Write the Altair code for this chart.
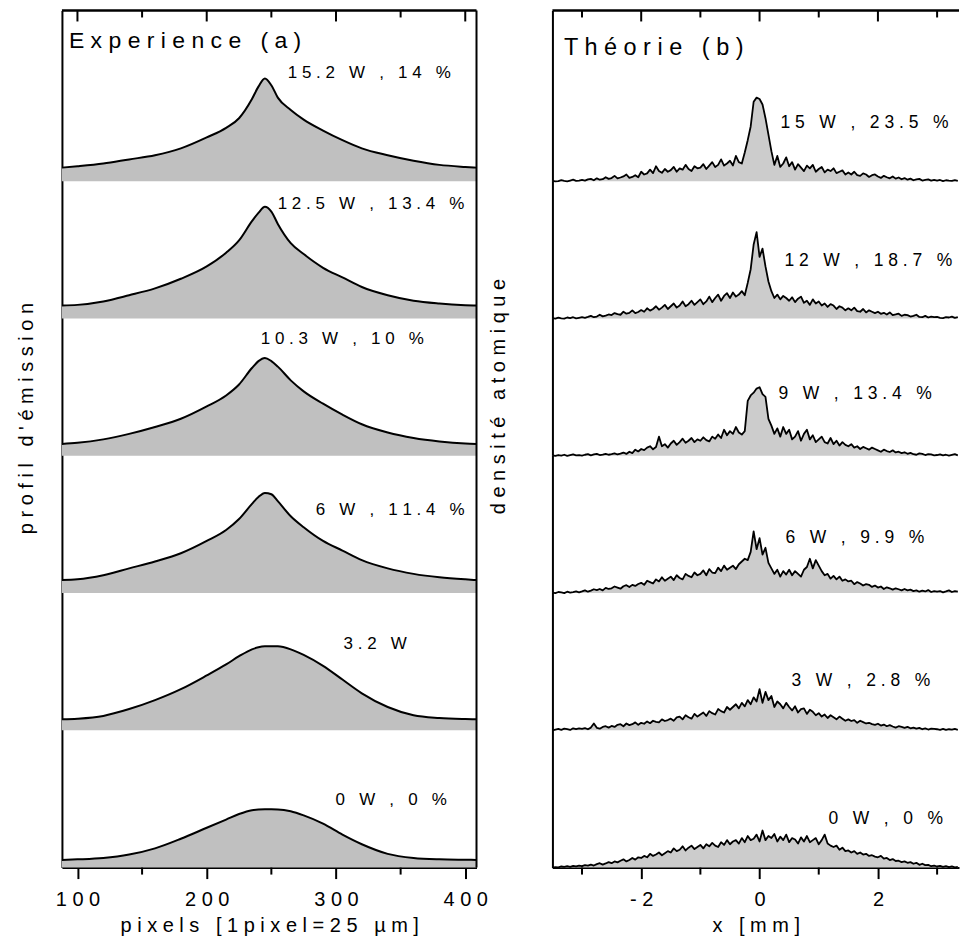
import altair as alt
import pandas as pd

FONT = "Liberation Sans"

# ---------------- (a) Experience : emission profiles ----------------
XA = [88, 100, 120, 140, 160, 180, 200, 215, 225, 235, 240, 245, 250, 255,
      265, 275, 290, 305, 320, 340, 360, 380, 400, 408.7]
A_NAMES = ["15.2 W , 14 %", "12.5 W , 13.4 %", "10.3 W , 10 %",
           "6 W , 11.4 %", "3.2 W", "0 W , 0 %"]
A_152 = [0.10, 0.11, 0.13, 0.16, 0.19, 0.24, 0.32, 0.39, 0.46, 0.60, 0.69, 0.75,
         0.70, 0.61, 0.52, 0.45, 0.37, 0.30, 0.24, 0.19, 0.15, 0.12, 0.105, 0.10]
A_125 = [0.095, 0.10, 0.125, 0.17, 0.22, 0.29, 0.38, 0.48, 0.57, 0.71, 0.77, 0.815,
         0.78, 0.69, 0.55, 0.47, 0.37, 0.30, 0.23, 0.17, 0.13, 0.11, 0.098, 0.095]
A_103 = [0.087, 0.095, 0.12, 0.16, 0.21, 0.27, 0.36, 0.44, 0.52, 0.64, 0.69, 0.713,
         0.69, 0.65, 0.55, 0.47, 0.38, 0.30, 0.23, 0.17, 0.13, 0.105, 0.09, 0.087]
A_6 = [0.095, 0.10, 0.13, 0.18, 0.23, 0.29, 0.38, 0.46, 0.54, 0.65, 0.70, 0.73,
       0.72, 0.67, 0.56, 0.48, 0.38, 0.31, 0.24, 0.18, 0.14, 0.115, 0.10, 0.095]
A_32 = [0.08, 0.085, 0.105, 0.155, 0.22, 0.30, 0.40, 0.48, 0.54, 0.59, 0.605, 0.612,
        0.613, 0.612, 0.59, 0.55, 0.47, 0.37, 0.27, 0.17, 0.11, 0.09, 0.082, 0.08]
A_0 = [0.056, 0.06, 0.07, 0.095, 0.14, 0.21, 0.29, 0.35, 0.39, 0.418, 0.423, 0.425,
       0.425, 0.424, 0.41, 0.38, 0.32, 0.24, 0.17, 0.10, 0.07, 0.06, 0.057, 0.056]
A_SERIES = [A_152, A_125, A_103, A_6, A_32, A_0]
A_LABEL_X = [262.7, 254.9, 241.8, 284.3, 305.9, 299.7]
A_LABEL_Y = [5.793, 4.833, 3.850, 2.606, 1.630, 0.495]
A_TITLE = "Experience (a)"
A_TITLE_X = [93.4]
A_TITLE_Y = [6.026]
TICKS_A_MAJOR = [100, 200, 300, 400]
TICKS_A_MINOR = [150, 250, 350]

# ---------------- (b) Théorie : atomic density ----------------
XB = [round(-3.5 + 0.05 * i, 2) for i in range(138)]  # bin centres, -3.5 .. 3.35 mm
B_NAMES = ["15 W , 23.5 %", "12 W , 18.7 %", "9 W , 13.4 %",
           "6 W , 9.9 %", "3 W , 2.8 %", "0 W , 0 %"]
B_15 = [0.004, 0.0, 0.002, 0.009, 0.003, 0.0, 0.006, 0.012, 0.004, 0.006,
        0.01, 0.005, 0.014, 0.018, 0.008, 0.022, 0.012, 0.016, 0.03, 0.018,
        0.024, 0.04, 0.022, 0.028, 0.036, 0.05, 0.026, 0.032, 0.045, 0.03,
        0.07, 0.05, 0.058, 0.085, 0.06, 0.11, 0.075, 0.062, 0.09, 0.07,
        0.082, 0.105, 0.07, 0.095, 0.085, 0.12, 0.09, 0.075, 0.11, 0.095,
        0.10, 0.125, 0.09, 0.115, 0.14, 0.105, 0.12, 0.16, 0.115, 0.13,
        0.15, 0.115, 0.185, 0.14, 0.13, 0.21, 0.30, 0.40, 0.58, 0.61,
        0.60, 0.56, 0.46, 0.34, 0.22, 0.12, 0.185, 0.105, 0.13, 0.175,
        0.11, 0.14, 0.085, 0.125, 0.10, 0.075, 0.115, 0.095, 0.12, 0.07,
        0.09, 0.105, 0.065, 0.085, 0.075, 0.095, 0.06, 0.07, 0.08, 0.05,
        0.065, 0.05, 0.07, 0.045, 0.04, 0.058, 0.05, 0.032, 0.045, 0.05,
        0.035, 0.025, 0.04, 0.03, 0.022, 0.036, 0.02, 0.028, 0.015, 0.024,
        0.012, 0.02, 0.008, 0.015, 0.018, 0.006, 0.01, 0.014, 0.005, 0.01,
        0.006, 0.01, 0.002, 0.008, 0.005, 0.003, 0.009, 0.004]
B_12 = [0.003, 0.0, 0.007, 0.002, 0.0, 0.008, 0.004, 0.01, 0.002, 0.006,
        0.01, 0.006, 0.012, 0.02, 0.01, 0.015, 0.028, 0.016, 0.022, 0.03,
        0.026, 0.04, 0.032, 0.028, 0.05, 0.036, 0.042, 0.06, 0.04, 0.048,
        0.062, 0.05, 0.075, 0.058, 0.07, 0.09, 0.065, 0.08, 0.10, 0.07,
        0.09, 0.11, 0.08, 0.095, 0.125, 0.09, 0.105, 0.13, 0.10, 0.12,
        0.14, 0.105, 0.125, 0.16, 0.12, 0.15, 0.175, 0.13, 0.165, 0.185,
        0.15, 0.19, 0.16, 0.175, 0.20, 0.17, 0.26, 0.36, 0.54, 0.63,
        0.45, 0.51, 0.38, 0.27, 0.20, 0.15, 0.175, 0.14, 0.165, 0.15,
        0.13, 0.155, 0.12, 0.145, 0.16, 0.115, 0.13, 0.10, 0.14, 0.11,
        0.125, 0.095, 0.11, 0.085, 0.105, 0.095, 0.07, 0.09, 0.08, 0.06,
        0.075, 0.06, 0.08, 0.055, 0.05, 0.07, 0.045, 0.06, 0.05, 0.04,
        0.05, 0.035, 0.042, 0.03, 0.045, 0.025, 0.03, 0.036, 0.02, 0.028,
        0.025, 0.015, 0.02, 0.028, 0.012, 0.01, 0.02, 0.008, 0.015, 0.01,
        0.012, 0.006, 0.004, 0.01, 0.008, 0.014, 0.005, 0.01]
B_9 = [0.004, 0.0, 0.006, 0.002, 0.008, 0.0, 0.005, 0.01, 0.003, 0.006,
       0.002, 0.008, 0.012, 0.004, 0.01, 0.014, 0.006, 0.009, 0.015, 0.008,
       0.012, 0.018, 0.01, 0.016, 0.024, 0.014, 0.03, 0.02, 0.045, 0.032,
       0.05, 0.042, 0.06, 0.07, 0.048, 0.065, 0.14, 0.07, 0.085, 0.06,
       0.09, 0.11, 0.08, 0.10, 0.125, 0.095, 0.11, 0.13, 0.10, 0.12,
       0.11, 0.135, 0.115, 0.105, 0.14, 0.125, 0.155, 0.13, 0.19, 0.15,
       0.18, 0.16, 0.21, 0.17, 0.155, 0.18, 0.40, 0.44, 0.46, 0.49,
       0.50, 0.45, 0.43, 0.27, 0.22, 0.16, 0.20, 0.14, 0.21, 0.16,
       0.19, 0.12, 0.14, 0.18, 0.11, 0.16, 0.19, 0.12, 0.15, 0.10,
       0.12, 0.14, 0.10, 0.09, 0.13, 0.085, 0.11, 0.075, 0.10, 0.08,
       0.07, 0.085, 0.06, 0.07, 0.05, 0.065, 0.055, 0.045, 0.06, 0.05,
       0.04, 0.03, 0.045, 0.035, 0.028, 0.04, 0.025, 0.03, 0.02, 0.026,
       0.015, 0.022, 0.012, 0.008, 0.018, 0.014, 0.006, 0.012, 0.01, 0.004,
       0.006, 0.01, 0.003, 0.008, 0.002, 0.007, 0.012, 0.004]
B_6 = [0.003, 0.0, 0.008, 0.005, 0.0, 0.01, 0.004, 0.007, 0.012, 0.005,
       0.012, 0.02, 0.01, 0.018, 0.028, 0.022, 0.03, 0.02, 0.038, 0.03,
       0.035, 0.048, 0.04, 0.032, 0.05, 0.058, 0.044, 0.06, 0.052, 0.066,
       0.075, 0.06, 0.09, 0.08, 0.07, 0.10, 0.085, 0.115, 0.09, 0.105,
       0.12, 0.095, 0.13, 0.11, 0.10, 0.14, 0.125, 0.115, 0.15, 0.13,
       0.14, 0.165, 0.13, 0.175, 0.15, 0.145, 0.185, 0.16, 0.20, 0.17,
       0.185, 0.20, 0.175, 0.21, 0.23, 0.25, 0.24, 0.30, 0.45, 0.32,
       0.40, 0.28, 0.33, 0.22, 0.18, 0.14, 0.17, 0.12, 0.16, 0.135,
       0.17, 0.13, 0.16, 0.14, 0.12, 0.17, 0.19, 0.25, 0.18, 0.24,
       0.20, 0.16, 0.13, 0.14, 0.105, 0.125, 0.10, 0.12, 0.09, 0.10,
       0.085, 0.09, 0.065, 0.08, 0.07, 0.055, 0.065, 0.06, 0.045, 0.055,
       0.04, 0.048, 0.03, 0.042, 0.035, 0.025, 0.035, 0.028, 0.02, 0.03,
       0.02, 0.025, 0.014, 0.02, 0.01, 0.018, 0.012, 0.022, 0.008, 0.015,
       0.01, 0.015, 0.005, 0.012, 0.02, 0.008, 0.015, 0.01]
B_3 = [0.0, 0.006, 0.01, 0.004, 0.012, 0.008, 0.003, 0.015, 0.009, 0.014,
       0.01, 0.016, 0.008, 0.02, 0.05, 0.018, 0.012, 0.025, 0.03, 0.02,
       0.032, 0.025, 0.04, 0.045, 0.03, 0.05, 0.038, 0.045, 0.058, 0.04,
       0.055, 0.048, 0.065, 0.052, 0.07, 0.062, 0.058, 0.08, 0.068, 0.075,
       0.085, 0.07, 0.095, 0.10, 0.08, 0.11, 0.095, 0.085, 0.12, 0.10,
       0.115, 0.13, 0.105, 0.14, 0.125, 0.115, 0.155, 0.14, 0.13, 0.17,
       0.15, 0.17, 0.19, 0.16, 0.20, 0.175, 0.22, 0.19, 0.24, 0.21,
       0.30, 0.20, 0.28, 0.22, 0.25, 0.17, 0.21, 0.19, 0.16, 0.20,
       0.17, 0.145, 0.175, 0.13, 0.155, 0.16, 0.12, 0.15, 0.135, 0.11,
       0.125, 0.10, 0.115, 0.09, 0.11, 0.095, 0.08, 0.10, 0.085, 0.07,
       0.08, 0.068, 0.075, 0.055, 0.07, 0.06, 0.05, 0.055, 0.045, 0.04,
       0.048, 0.035, 0.042, 0.03, 0.038, 0.028, 0.02, 0.03, 0.025, 0.018,
       0.025, 0.015, 0.02, 0.012, 0.018, 0.008, 0.014, 0.006, 0.012, 0.01,
       0.008, 0.004, 0.01, 0.003, 0.008, 0.005, 0.01, 0.004]
B_0 = [0.0, 0.004, 0.002, 0.008, 0.005, 0.01, 0.006, 0.012, 0.009, 0.015,
       0.01, 0.018, 0.014, 0.022, 0.015, 0.025, 0.032, 0.022, 0.03, 0.04,
       0.032, 0.045, 0.038, 0.05, 0.06, 0.045, 0.055, 0.07, 0.058, 0.075,
       0.07, 0.085, 0.075, 0.10, 0.085, 0.095, 0.11, 0.09, 0.105, 0.12,
       0.11, 0.14, 0.12, 0.13, 0.155, 0.125, 0.145, 0.16, 0.135, 0.15,
       0.165, 0.14, 0.17, 0.155, 0.18, 0.16, 0.15, 0.185, 0.165, 0.20,
       0.17, 0.19, 0.20, 0.175, 0.215, 0.185, 0.23, 0.20, 0.21, 0.24,
       0.19, 0.27, 0.20, 0.23, 0.215, 0.245, 0.19, 0.225, 0.20, 0.24,
       0.185, 0.215, 0.205, 0.175, 0.22, 0.19, 0.23, 0.185, 0.20, 0.215,
       0.17, 0.20, 0.24, 0.175, 0.16, 0.15, 0.16, 0.13, 0.145, 0.12,
       0.125, 0.11, 0.12, 0.10, 0.11, 0.095, 0.10, 0.085, 0.09, 0.08,
       0.075, 0.085, 0.065, 0.07, 0.055, 0.062, 0.048, 0.05, 0.04, 0.045,
       0.035, 0.04, 0.028, 0.035, 0.02, 0.028, 0.018, 0.02, 0.01, 0.015,
       0.008, 0.012, 0.005, 0.01, 0.003, 0.008, 0.002, 0.005]
B_SERIES = [B_15, B_12, B_9, B_6, B_3, B_0]
B_LABEL_X = [0.354, 0.42, 0.320, 0.438, 0.540, 1.164]
B_LABEL_Y = [5.422, 4.418, 3.450, 2.402, 1.361, 0.357]
B_TITLE = "Théorie (b)"
B_TITLE_X = [-3.305]
B_TITLE_Y = [5.975]
TICKS_B_MAJOR = [-2, 0, 2]
TICKS_B_MINOR = [-3, -1, 1, 3]

Y_TOP = 6.245
H = 858
WA = 415
WB = 407


def sp(s):
    """Letter-spaced rendering, as in the original typesetting (word gaps kept wide)."""
    return " ".join("\u00a0" if c == " " else c for c in s)


def stack(names, series, xs):
    rows = []
    n = len(names)
    for i, (name, vals) in enumerate(zip(names, series)):
        k = n - 1 - i
        for x, h in zip(xs, vals):
            rows.append({"x": x, "y": k + h, "y0": k, "curve": name})
    return pd.DataFrame(rows)


df_a = stack(A_NAMES, A_SERIES, XA)
df_b = stack(B_NAMES, B_SERIES, XB)

lab_a = pd.DataFrame({"x": A_LABEL_X, "y": A_LABEL_Y, "t": [sp(s) for s in A_NAMES]})
lab_b = pd.DataFrame({"x": B_LABEL_X, "y": B_LABEL_Y, "t": [sp(s) for s in B_NAMES]})
tit_a = pd.DataFrame({"x": A_TITLE_X, "y": A_TITLE_Y, "t": [sp(A_TITLE)]})
tit_b = pd.DataFrame({"x": B_TITLE_X, "y": B_TITLE_Y, "t": [sp(B_TITLE)]})

yscale = alt.Scale(domain=[0, Y_TOP], nice=False, zero=False)


def y_enc(title, tx, ty):
    return alt.Y("y:Q", scale=yscale, axis=alt.Axis(
        ticks=False, labels=False, grid=False, domainColor="black", domainWidth=2,
        title=sp(title), titleFont=FONT, titleFontSize=20, titleFontWeight="normal",
        titleColor="black", titleAngle=270, titleX=tx, titleY=ty,
        titleAlign="center", titleBaseline="middle"))


def x_enc(domain, values, label_expr, title):
    return alt.X("x:Q", scale=alt.Scale(domain=domain, nice=False, zero=False),
                 axis=alt.Axis(values=values, tickSize=11, tickWidth=2, tickColor="black",
                               domainColor="black", domainWidth=2, grid=False,
                               labelFont=FONT, labelFontSize=20, labelColor="black",
                               labelPadding=11, labelFlush=False, labelOverlap=False,
                               labelExpr=label_expr,
                               title=sp(title), titleFont=FONT, titleFontSize=20,
                               titleFontWeight="normal", titleColor="black",
                               titleY=64, titleBaseline="alphabetic"))


def panel(df, labels, title_df, X, Y, fill, interp, lw, majors, minors, w,
          label_size, title_size, right_border):
    area = alt.Chart(df).mark_area(color=fill, interpolate=interp).encode(
        x=X, y=Y, y2="y0:Q", detail="curve:N")
    line = alt.Chart(df).mark_line(color="black", strokeWidth=lw, interpolate=interp,
                                   strokeJoin="round").encode(
        x=X, y=Y, detail="curve:N")
    maj = pd.DataFrame({"x": majors})
    mnr = pd.DataFrame({"x": minors})
    top_major = alt.Chart(maj).mark_rule(color="black", strokeWidth=2).encode(
        x=X, y=alt.value(0), y2=alt.value(11))
    top_minor = alt.Chart(mnr).mark_rule(color="black", strokeWidth=2).encode(
        x=X, y=alt.value(0), y2=alt.value(7))
    bot_minor = alt.Chart(mnr).mark_rule(color="black", strokeWidth=2).encode(
        x=X, y=alt.value(H), y2=alt.value(H + 7))
    one = pd.DataFrame({"a": [0]})
    top_line = alt.Chart(one).mark_rule(color="black", strokeWidth=2.5).encode(
        x=alt.value(0), x2=alt.value(w), y=alt.value(0))
    txt = alt.Chart(labels).mark_text(align="left", baseline="middle", font=FONT,
                                      fontSize=label_size, color="black").encode(
        x=X, y=Y, text="t:N")
    ttl = alt.Chart(title_df).mark_text(align="left", baseline="middle", font=FONT,
                                        fontSize=title_size, color="black").encode(
        x=X, y=Y, text="t:N")
    layers = [area, line, top_major, top_minor, bot_minor, top_line, txt, ttl]
    if right_border:
        layers.append(alt.Chart(one).mark_rule(color="black", strokeWidth=2).encode(
            x=alt.value(w), y=alt.value(0), y2=alt.value(H)))
    return alt.layer(*layers).properties(width=w, height=H)


XA_ENC = x_enc([88, 408.7], TICKS_A_MAJOR,
               "join(split(toString(datum.value), ''), ' ')",
               "pixels [1pixel=25 µm]")
XB_ENC = x_enc([-3.5, 3.37], TICKS_B_MAJOR,
               "datum.value < 0 ? '- ' + toString(-datum.value) : toString(datum.value)",
               "x [mm]")

left = panel(df_a, lab_a, tit_a, XA_ENC, y_enc("profil d'émission", -35, 408),
             "#c0c0c0", "monotone", 2, TICKS_A_MAJOR, TICKS_A_MINOR, WA, 17, 23, True)
right = panel(df_b, lab_b, tit_b, XB_ENC, y_enc("densité atomique", -54, 386),
              "#cccccc", "linear", 1.8, TICKS_B_MAJOR, TICKS_B_MINOR, WB, 17.5, 23.5, False)

chart = alt.hconcat(left, right, spacing=76, bounds="flush").properties(
    padding={"left": 16, "top": 8, "right": 0, "bottom": 0},
    background="white",
).configure_view(stroke="transparent")

chart.save("out.html", embed_options={"renderer": "svg", "actions": False})
